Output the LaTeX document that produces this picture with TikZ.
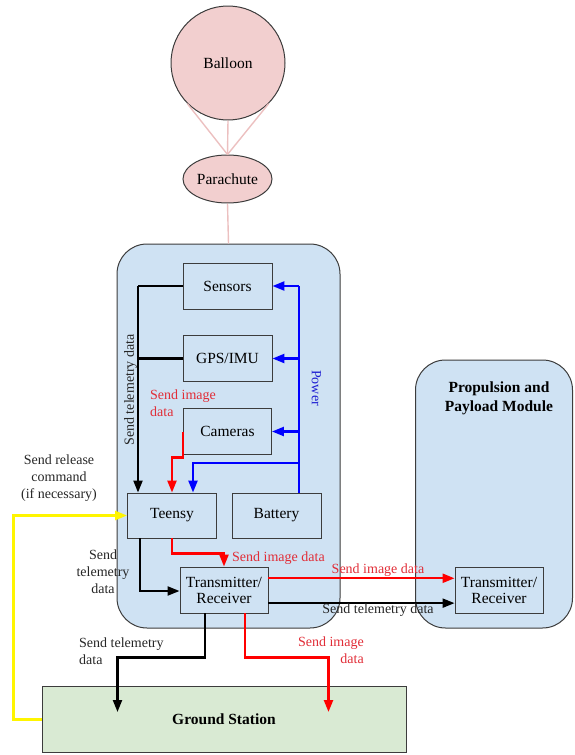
\documentclass[tikz,border=0pt]{standalone}
\usepackage{fontspec}
\setmainfont{Liberation Serif}
\usetikzlibrary{arrows.meta,shapes.geometric,calc}

\definecolor{boxblue}{RGB}{207,226,243}
\definecolor{pinkfill}{RGB}{242,207,207}
\definecolor{pinkline}{RGB}{236,192,192}
\definecolor{groundfill}{RGB}{217,234,211}
\definecolor{edgegray}{RGB}{60,60,60}
\definecolor{redtext}{RGB}{225,45,55}
\definecolor{bluetext}{RGB}{30,30,210}
\definecolor{linkyellow}{RGB}{255,245,0}

\tikzset{
  unit/.style={draw=edgegray, line width=0.9pt, fill=boxblue, rectangle,
    minimum width=89pt, minimum height=46pt, inner sep=0pt,
    font=\fontsize{15.5}{18}\selectfont, align=center},
  module/.style={draw=edgegray, line width=1pt, fill=boxblue, rectangle,
    rounded corners=30pt, inner sep=0pt},
  tip/.style={-{Triangle[length=12pt,width=9pt]}},
  telem/.style={draw=black, line width=2.1pt},
  image/.style={draw=red, line width=2.3pt},
  power/.style={draw=blue, line width=2.3pt},
  release/.style={draw=linkyellow, line width=2.4pt},
  tether/.style={draw=pinkline, line width=1.4pt},
  lbl/.style={font=\fontsize{14}{17}\selectfont, text=black!85, inner sep=0pt},
  redlbl/.style={lbl, text=redtext},
}

\begin{document}
\begin{tikzpicture}[x=1pt,y=-1pt]
\useasboundingbox (0,0) rectangle (574,755);

% balloon and parachute
\node (balloon) [circle, draw=edgegray, line width=1pt, fill=pinkfill,
  minimum size=114pt, inner sep=0pt, font=\fontsize{15.5}{18}\selectfont] at (228,63) {Balloon};
\node (chute) [ellipse, draw=edgegray, line width=1pt, fill=pinkfill,
  minimum width=89pt, minimum height=48pt, inner sep=0pt,
  font=\fontsize{15.5}{18}\selectfont] at (227.5,179) {Parachute};

% modules
\node (main) [module, minimum width=223pt, minimum height=384pt] at (228.5,436) {};
\node (prop) [module, minimum width=157pt, minimum height=268pt] at (494,494) {};
\node [font=\bfseries\fontsize{15.5}{19}\selectfont, align=center] at (499,398)
  {Propulsion and\\Payload Module};

% tethers
\draw[tether] (balloon.-135) -- (chute.north);
\draw[tether] (balloon.-45) -- (chute.north);
\draw[tether] (balloon.south) -- (chute.north);
\draw[tether] (chute.south) -- (main.north);

% units of the main module
\node (sensors) [unit] at (227.5,286) {Sensors};
\node (gps) [unit] at (227.5,358.5) {GPS/IMU};
\node (cameras) [unit, minimum width=88pt] at (227.5,431.5) {Cameras};
\node (teensy) [unit, minimum height=45pt] at (172,515.5) {Teensy};
\node (battery) [unit, minimum height=45pt] at (276.5,515.5) {Battery};
\node (tx) [unit, minimum width=88pt] at (224,590) {Transmitter/\\[-2pt]Receiver};
\node (rx) [unit, minimum width=88pt] at (499,590) {Transmitter/\\[-2pt]Receiver};

% ground station
\node (ground) [draw=edgegray, line width=1pt, fill=groundfill, rectangle,
  minimum width=364pt, minimum height=66pt, inner sep=0pt,
  font=\bfseries\fontsize{15.5}{18}\selectfont] at (224,719.5) {Ground Station};

% telemetry bus to the Teensy
\coordinate (tbus) at (138,286);
\draw[telem] (sensors.west) -- (tbus);
\draw[telem, tip] (tbus) -- (tbus |- teensy.north);
\draw[telem] (gps.west) -- (gps.west -| tbus);
\node [lbl, rotate=90] at (130.5,390) {Send telemetry data};

% power bus from the battery
\coordinate (pbus) at (299,286);
\draw[power] (pbus |- battery.north) -- (pbus);
\draw[power, tip] (pbus) -- (sensors.east);
\draw[power, tip] (pbus |- gps.east) -- (gps.east);
\draw[power, tip] (pbus |- cameras.east) -- (cameras.east);
\coordinate (pteensy) at (299,463);
\draw[power, tip] (pteensy) -| ($(teensy.north)+(21,0)$);
\node [lbl, text=bluetext, rotate=-90] at (316.5,388) {Power};

% camera images to the Teensy
\draw[image, tip] (cameras.west) -- ++(0,26) -| (teensy.north);
\node [redlbl, align=left, anchor=west] at (150,403) {Send image\\data};

% Teensy to the transmitter
\draw[image, tip] (teensy.south) -- ++(0,15) -| (tx.north);
\node [redlbl, anchor=west] at (232,558) {Send image data};
\draw[telem, tip] ($(teensy.south)+(-32,0)$) |- ($(tx.west)+(0,1)$);
\node [lbl, align=center] at (103,571.5) {Send\\telemetry\\data};

% release command from the ground
\draw[release, tip] (ground.west) -- ++(-28,0) |- (teensy.west);
\node [lbl, align=center] at (59,478) {Send release\\command\\(if necessary)};

% link to the propulsion and payload module
\draw[image, tip] ($(tx.north east)!0.25!(tx.south east)$) coordinate (r1) -- (r1 -| rx.west);
\node [redlbl] at (378,570.5) {Send image data};
\draw[telem, tip] ($(tx.north east)!0.78!(tx.south east)$) coordinate (b1) -- (b1 -| rx.west);
\node [lbl] at (378,610.5) {Send telemetry data};

% downlink to the ground station
\coordinate (gt) at ($(ground.north west)+(76,26)$);
\coordinate (gi) at ($(ground.north west)+(287,26)$);
\draw[telem, tip] ($(tx.south)+(-19,0)$) -- ++(0,44) -| (gt);
\node [lbl, align=left, anchor=west] at (79,651.5) {Send telemetry\\data};
\draw[image, tip] ($(tx.south)+(21,0)$) -- ++(0,44) -| (gi);
\node [redlbl, align=right, anchor=east] at (364,650.5) {Send image\\data};

\end{tikzpicture}
\end{document}
